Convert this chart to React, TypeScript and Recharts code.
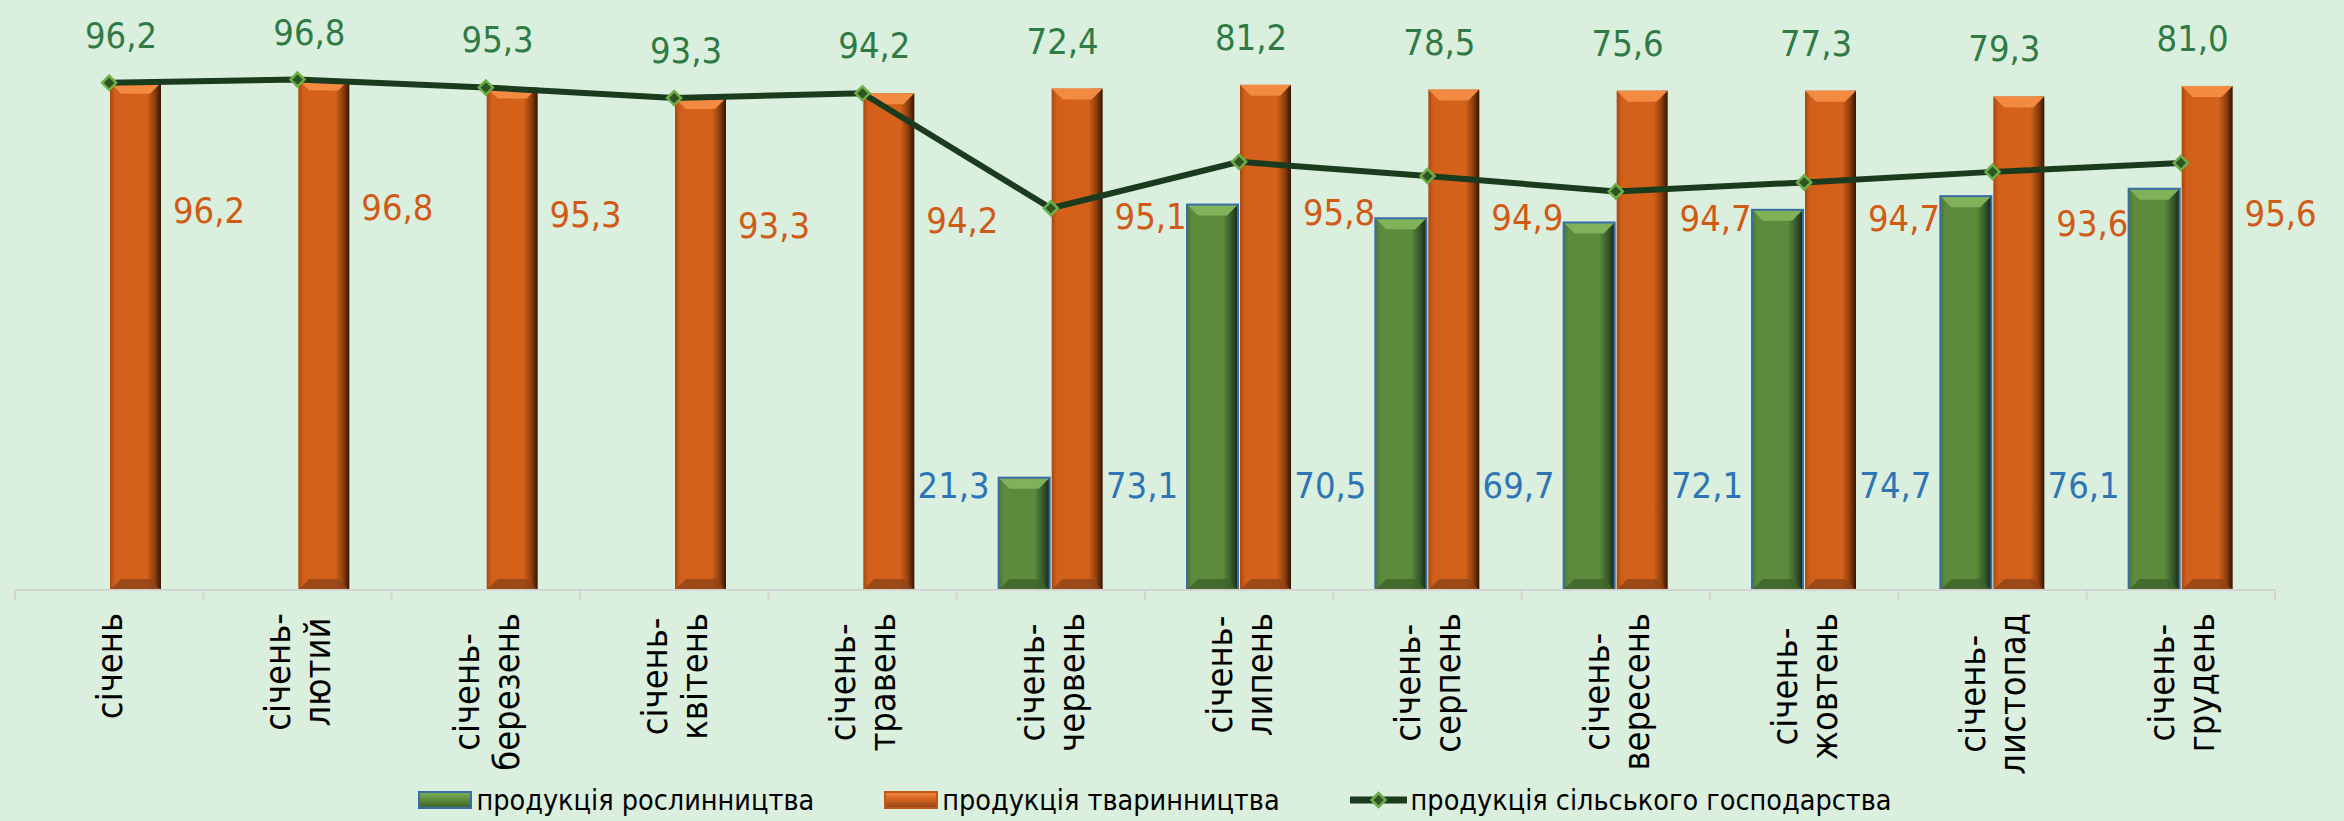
import React from 'react';
import { ComposedChart, Bar, Line, XAxis, YAxis, Legend, LabelList } from 'recharts';

const months = [
  'січень',
  'січень-лютий',
  'січень-березень',
  'січень-квітень',
  'січень-травень',
  'січень-червень',
  'січень-липень',
  'січень-серпень',
  'січень-вересень',
  'січень-жовтень',
  'січень-листопад',
  'січень-грудень',
];
const plantValues = [null, null, null, null, null, 21.3, 73.1, 70.5, 69.7, 72.1, 74.7, 76.1];
const animalValues = [96.2, 96.8, 95.3, 93.3, 94.2, 95.1, 95.8, 94.9, 94.7, 94.7, 93.6, 95.6];
const totalValues = [96.2, 96.8, 95.3, 93.3, 94.2, 72.4, 81.2, 78.5, 75.6, 77.3, 79.3, 81.0];
const seriesNames = ['продукція рослинництва', 'продукція тваринництва', 'продукція сільського господарства'];

const W = 2344;
const H = 821;
const MARGIN = { top: 10, right: 69, left: 15, bottom: 1 };
const PLOT_W = W - MARGIN.left - MARGIN.right;
const BAR_GAP = 2;
const FONT = "'DejaVu Sans Condensed', 'DejaVu Sans', sans-serif";
const BG = '#DAEFDE';

const data = months.map((m, i) => ({
  month: m,
  plant: plantValues[i],
  animal: animalValues[i],
  total: totalValues[i],
}));

const fmt = (v: number) => v.toFixed(1).replace('.', ',');

let ctx: CanvasRenderingContext2D | null = null;
function measure(text: string, size: number) {
  if (!ctx) ctx = document.createElement('canvas').getContext('2d');
  if (!ctx) return text.length * size * 0.55;
  ctx.font = `${size}px ${FONT}`;
  return ctx.measureText(text).width;
}

function boxOf(props: any) {
  const vb = props.viewBox || {};
  return {
    x: props.x ?? vb.x,
    y: props.y ?? vb.y,
    width: props.width ?? vb.width,
    height: props.height ?? vb.height,
  };
}

// tick with the text turned up, lines split after the hyphen
function MonthTick(props: any) {
  const { x, y, payload, index } = props;
  const text = String(payload.value);
  const cut = text.indexOf('-');
  const lines = cut >= 0 ? [text.slice(0, cut + 1), text.slice(cut + 1)] : [text];
  const size = 36;
  const maxW = Math.max(...lines.map((l) => measure(l, size)));
  const lineH = 40;
  const band = PLOT_W / months.length;
  return (
    <g>
      <line x1={x - band / 2} x2={x - band / 2} y1={y} y2={y + 10} stroke="#D4D4D4" strokeWidth={2} />
      {index === months.length - 1 && (
        <line x1={x + band / 2} x2={x + band / 2} y1={y} y2={y + 10} stroke="#D4D4D4" strokeWidth={2} />
      )}
      <g transform={`translate(${x},${y + 23}) rotate(-90)`}>
        {lines.map((l, i) => (
          <text
            key={i}
            x={-maxW / 2}
            y={(i - (lines.length - 1) / 2) * lineH}
            dy="0.36em"
            textAnchor="middle"
            fontFamily={FONT}
            fontSize={size}
            fill="#000"
          >
            {l}
          </text>
        ))}
      </g>
    </g>
  );
}

function makeBar(kind: 'plant' | 'animal') {
  return (props: any) => {
    const { x, y, width, height } = props;
    if (height == null || height <= 0) return <g />;
    const b = Math.min(11, height / 2);
    const top = kind === 'plant' ? '#80B25A' : '#F28A42';
    const bottom = kind === 'plant' ? '#3E6329' : '#8E4318';
    return (
      <g>
        <rect x={x} y={y} width={width} height={height} fill={`url(#grad-${kind})`} />
        <polygon points={`${x},${y} ${x + width},${y} ${x + width - b},${y + b} ${x + b},${y + b}`} fill={top} />
        <polygon
          points={`${x},${y + height} ${x + width},${y + height} ${x + width - b},${y + height - b} ${x + b},${y + height - b}`}
          fill={bottom}
          opacity={0.8}
        />
        {kind === 'plant' && (
          <rect x={x} y={y} width={width} height={height} fill="none" stroke="#3A6CA6" strokeWidth={2} />
        )}
      </g>
    );
  };
}

const Diamond = (p: any) => {
  const { cx, cy, index } = p;
  const s = 7;
  return (
    <path
      key={`dot-${index}`}
      d={`M${cx},${cy - s} L${cx + s},${cy} L${cx},${cy + s} L${cx - s},${cy} Z`}
      fill="#2E5524"
      stroke="#6EAE46"
      strokeWidth={2.5}
    />
  );
};

// total labels sit above the orange bars
const TotalLabel = (props: any) => {
  const { value, index } = props;
  if (value == null) return null;
  const b = boxOf(props);
  const cx = b.x - BAR_GAP / 2 + 12;
  return (
    <text key={`t-${index}`} x={cx} y={b.y - 48} dy="0.36em" textAnchor="middle" fontFamily={FONT} fontSize={36} fill="#2F7A45">
      {fmt(value)}
    </text>
  );
};

const AnimalLabel = (props: any) => {
  const { value, index } = props;
  if (value == null) return null;
  const b = boxOf(props);
  return (
    <text key={`a-${index}`} x={b.x + b.width + 48} y={b.y + 127} dy="0.36em" textAnchor="middle" fontFamily={FONT} fontSize={36} fill="#D05A16">
      {fmt(value)}
    </text>
  );
};

const PlantLabel = (props: any) => {
  const { value, index } = props;
  if (value == null) return null;
  const b = boxOf(props);
  return (
    <text key={`p-${index}`} x={b.x - 45} y={b.y + b.height - 105} dy="0.36em" textAnchor="middle" fontFamily={FONT} fontSize={36} fill="#2E75B6">
      {fmt(value)}
    </text>
  );
};

function Swatch({ kind }: { kind: 'plant' | 'animal' | 'line' }) {
  if (kind === 'line') {
    return (
      <svg width={57} height={18}>
        <line x1={0} x2={57} y1={9} y2={9} stroke="#1B3B1E" strokeWidth={7} />
        <path d="M28.5,2 L35.5,9 L28.5,16 L21.5,9 Z" fill="#2E5524" stroke="#6EAE46" strokeWidth={2.5} />
      </svg>
    );
  }
  const plant = kind === 'plant';
  return (
    <svg width={54} height={18}>
      <defs>
        <linearGradient id={`lg-${kind}`} x1="0" y1="0" x2="0" y2="1">
          <stop offset="0%" stopColor={plant ? '#7FB05A' : '#F28A42'} />
          <stop offset="50%" stopColor={plant ? '#5B8A3C' : '#D2601A'} />
          <stop offset="100%" stopColor={plant ? '#3A5E28' : '#8E4318'} />
        </linearGradient>
      </defs>
      <rect x={1} y={1} width={52} height={16} fill={`url(#lg-${kind})`} stroke={plant ? '#3A6CA6' : '#C0561A'} strokeWidth={2} />
    </svg>
  );
}

const renderLegend = () => {
  const kinds: ('plant' | 'animal' | 'line')[] = ['plant', 'animal', 'line'];
  return (
    <div
      style={{
        display: 'flex',
        justifyContent: 'center',
        alignItems: 'center',
        gap: 70,
        height: 40,
        paddingLeft: 20,
        fontFamily: FONT,
        fontSize: 28.5,
        color: '#000',
      }}
    >
      {kinds.map((k, i) => (
        <div key={k} style={{ display: 'flex', alignItems: 'center', gap: 4 }}>
          <Swatch kind={k} />
          <span>{seriesNames[i]}</span>
        </div>
      ))}
    </div>
  );
};

export default function App() {
  return (
    <div style={{ position: 'fixed', left: 0, top: 0, width: W, height: H, background: BG }}>
      <ComposedChart width={W} height={H} data={data} margin={MARGIN} barSize={51} barGap={BAR_GAP}>
        <defs>
          <linearGradient id="grad-animal" x1="0" y1="0" x2="1" y2="0">
            <stop offset="0%" stopColor="#A9480F" />
            <stop offset="10%" stopColor="#D2601A" />
            <stop offset="72%" stopColor="#D5621B" />
            <stop offset="88%" stopColor="#8C3E0E" />
            <stop offset="100%" stopColor="#321505" />
          </linearGradient>
          <linearGradient id="grad-plant" x1="0" y1="0" x2="1" y2="0">
            <stop offset="0%" stopColor="#4A7630" />
            <stop offset="10%" stopColor="#5C8B3C" />
            <stop offset="70%" stopColor="#5C8B3C" />
            <stop offset="88%" stopColor="#34552A" />
            <stop offset="100%" stopColor="#16261A" />
          </linearGradient>
        </defs>
        <XAxis
          dataKey="month"
          interval={0}
          height={190}
          tickSize={0}
          tickMargin={0}
          tickLine={false}
          axisLine={{ stroke: '#D4D4D4', strokeWidth: 2 }}
          tick={<MonthTick />}
        />
        <YAxis hide domain={[0, 110]} />
        <Legend verticalAlign="bottom" content={renderLegend} wrapperStyle={{ height: 40 }} />
        <Bar dataKey="plant" name={seriesNames[0]} shape={makeBar('plant')} isAnimationActive={false}>
          <LabelList dataKey="plant" content={PlantLabel} />
        </Bar>
        <Bar dataKey="animal" name={seriesNames[1]} shape={makeBar('animal')} isAnimationActive={false}>
          <LabelList dataKey="animal" content={AnimalLabel} />
          <LabelList dataKey="total" content={TotalLabel} />
        </Bar>
        <Line
          dataKey="total"
          name={seriesNames[2]}
          stroke="#1B3B1E"
          strokeWidth={6}
          dot={Diamond}
          activeDot={false}
          isAnimationActive={false}
        />
      </ComposedChart>
    </div>
  );
}
